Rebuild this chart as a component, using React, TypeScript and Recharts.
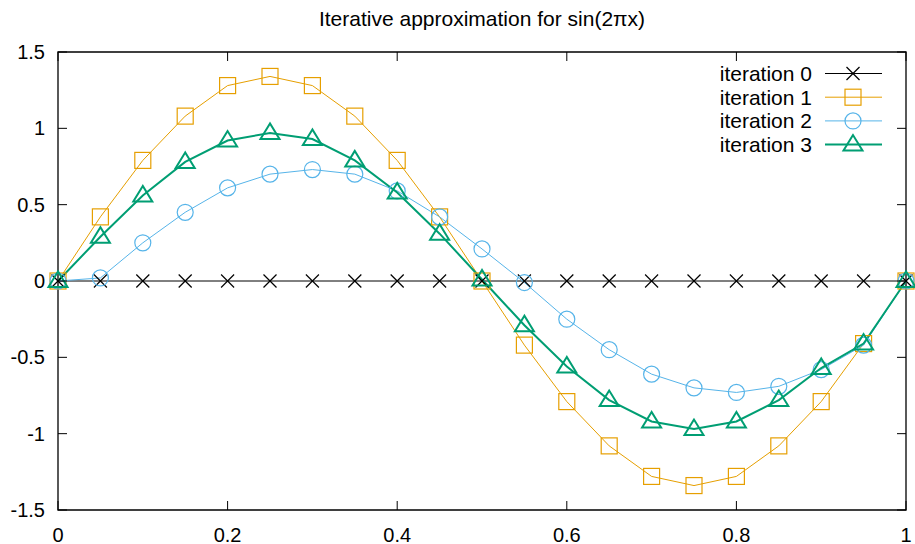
import { LineChart, Line, XAxis, YAxis, ReferenceArea } from "recharts";

// valeurs (pas de 0.05)
const xs = [0, 0.05, 0.1, 0.15, 0.2, 0.25, 0.3, 0.35, 0.4, 0.45, 0.5, 0.55, 0.6, 0.65, 0.7, 0.75, 0.8, 0.85, 0.9, 0.95, 1];
const iter0 = [0, 0, 0, 0, 0, 0, 0, 0, 0, 0, 0, 0, 0, 0, 0, 0, 0, 0, 0, 0, 0];
const iter1 = [0, 0.42, 0.79, 1.08, 1.28, 1.34, 1.28, 1.08, 0.79, 0.42, 0, -0.42, -0.79, -1.08, -1.28, -1.34, -1.28, -1.08, -0.79, -0.41, 0];
const iter2 = [0, 0.02, 0.25, 0.45, 0.61, 0.7, 0.73, 0.7, 0.59, 0.42, 0.21, -0.01, -0.25, -0.45, -0.61, -0.7, -0.73, -0.69, -0.58, -0.42, 0];
const iter3 = [0, 0.29, 0.56, 0.78, 0.92, 0.97, 0.93, 0.79, 0.58, 0.31, 0.01, -0.29, -0.56, -0.78, -0.92, -0.97, -0.92, -0.78, -0.57, -0.41, 0];
const xTicks = [0, 0.2, 0.4, 0.6, 0.8, 1];
const yTicks = [-1.5, -1, -0.5, 0, 0.5, 1, 1.5];
const seriesNames = ["iteration 0", "iteration 1", "iteration 2", "iteration 3"];

const data = xs.map((x, i) => ({ x, i0: iter0[i], i1: iter1[i], i2: iter2[i], i3: iter3[i] }));

const FONT = "'Liberation Sans', Arial, sans-serif";
const LEFT = 58, RIGHT = 906, TOP = 52, BOTTOM = 510;

const COLORS = ["#000000", "#e69f00", "#56b4e9", "#009e73"];
const WIDTHS = [1, 1, 1, 2];

function Marker({ kind, cx, cy }: { kind: number; cx: number; cy: number }) {
  const c = COLORS[kind];
  if (kind === 0)
    return (
      <g stroke={c} strokeWidth={1.2}>
        <line x1={cx - 6.5} y1={cy - 6.5} x2={cx + 6.5} y2={cy + 6.5} />
        <line x1={cx - 6.5} y1={cy + 6.5} x2={cx + 6.5} y2={cy - 6.5} />
      </g>
    );
  if (kind === 1)
    return <rect x={cx - 8} y={cy - 8} width={16} height={16} fill="none" stroke={c} strokeWidth={1.2} />;
  if (kind === 2) return <circle cx={cx} cy={cy} r={8} fill="none" stroke={c} strokeWidth={1.2} />;
  return (
    <polygon
      points={`${cx},${cy - 9.5} ${cx - 9.5},${cy + 6} ${cx + 9.5},${cy + 6}`}
      fill="none"
      stroke={c}
      strokeWidth={2}
    />
  );
}

const makeDot = (kind: number) => (p: any) =>
  p.cx == null ? <g key={p.index} /> : <Marker key={p.index} kind={kind} cx={p.cx} cy={p.cy} />;

function XTick({ x, payload }: any) {
  return (
    <g>
      <line x1={x} x2={x} y1={BOTTOM} y2={BOTTOM - 9} stroke="#000" />
      <line x1={x} x2={x} y1={TOP} y2={TOP + 9} stroke="#000" />
      <text x={x} y={542} textAnchor="middle" fontSize={20} fontFamily={FONT} fill="#000">
        {payload.value}
      </text>
    </g>
  );
}

function YTick({ y, payload }: any) {
  return (
    <g>
      <line x1={LEFT} x2={LEFT + 9} y1={y} y2={y} stroke="#000" />
      <line x1={RIGHT} x2={RIGHT - 9} y1={y} y2={y} stroke="#000" />
      <text x={45} y={y + 7} textAnchor="end" fontSize={20} fontFamily={FONT} fill="#000">
        {payload.value}
      </text>
    </g>
  );
}

export default function App() {
  const keys = ["i0", "i1", "i2", "i3"];
  return (
    <div style={{ position: "absolute", left: 0, top: 0, width: 915, height: 544, background: "#fff" }}>
      <LineChart width={915} height={544} data={data} margin={{ top: 52, right: 9, bottom: 4, left: 8 }}>
        <XAxis
          dataKey="x"
          type="number"
          domain={[0, 1]}
          ticks={xTicks}
          interval={0}
          height={30}
          tickLine={false}
          axisLine={false}
          tick={<XTick />}
        />
        <YAxis
          type="number"
          domain={[-1.5, 1.5]}
          ticks={yTicks}
          interval={0}
          width={50}
          tickLine={false}
          axisLine={false}
          tick={<YTick />}
        />
        <ReferenceArea x1={0} x2={1} y1={-1.5} y2={1.5} fill="none" stroke="#000" strokeWidth={1.3} fillOpacity={0} />
        {keys.map((k, i) => (
          <Line
            key={k}
            dataKey={k}
            name={seriesNames[i]}
            type="linear"
            stroke={COLORS[i]}
            strokeWidth={WIDTHS[i]}
            dot={makeDot(i)}
            activeDot={false}
            isAnimationActive={false}
          />
        ))}
      </LineChart>
      <svg width={915} height={544} style={{ position: "absolute", left: 0, top: 0, pointerEvents: "none" }}>
        <text x={482} y={26} textAnchor="middle" fontSize={21} fontFamily={FONT} fill="#000">
          Iterative approximation for sin(2πx)
        </text>
        {seriesNames.map((n, i) => {
          const y = 73.5 + i * 23.7;
          return (
            <g key={n}>
              <text x={812} y={y + 7.5} textAnchor="end" fontSize={21} fontFamily={FONT} fill="#000">
                {n}
              </text>
              <line x1={825} x2={882} y1={y} y2={y} stroke={COLORS[i]} strokeWidth={WIDTHS[i]} />
              <Marker kind={i} cx={853} cy={y} />
            </g>
          );
        })}
      </svg>
    </div>
  );
}
